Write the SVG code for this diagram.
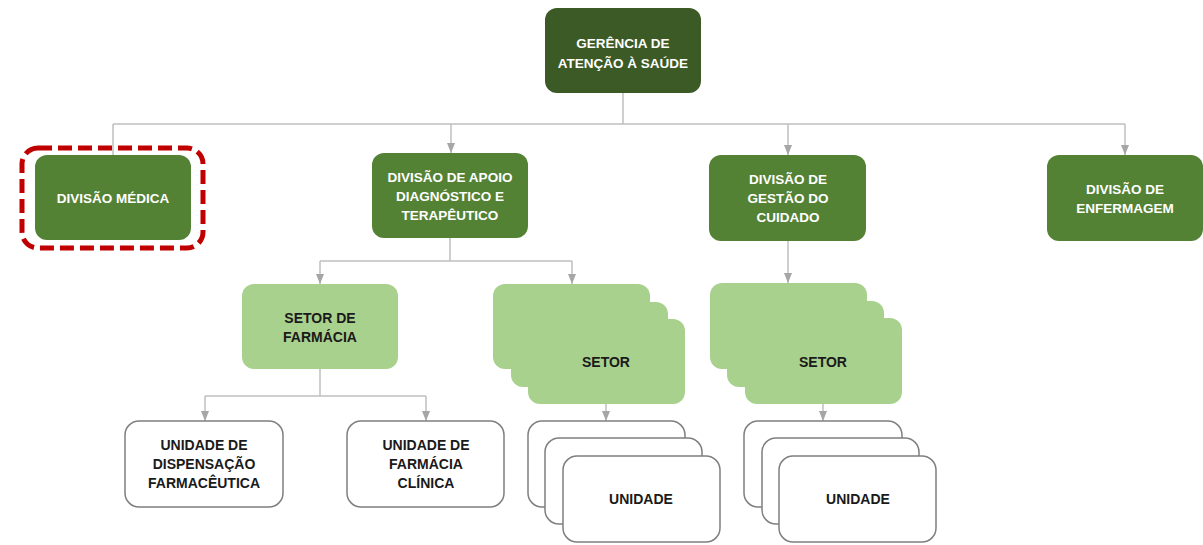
<svg xmlns="http://www.w3.org/2000/svg" width="1203" height="545" viewBox="0 0 1203 545">
<defs>
<style>
.dark{fill:#3b5a25}
.mid{fill:#548235}
.light{fill:#a9d18e}
.white{fill:#ffffff;stroke:#7f7f7f;stroke-width:1.5}
.tw{font-family:"Liberation Sans",Arial,sans-serif;font-weight:bold;font-size:13.5px;fill:#ffffff;text-anchor:middle}
.tb{font-family:"Liberation Sans",Arial,sans-serif;font-weight:bold;font-size:14px;fill:#1a1a1a;text-anchor:middle}
.con{fill:none;stroke:#bfbfbf;stroke-width:1.5}
</style>
<marker id="arr" markerWidth="10" markerHeight="10" viewBox="0 0 10 10" refX="10" refY="5" orient="auto" markerUnits="userSpaceOnUse">
<path d="M0,1 L10,5 L0,9 Z" fill="#a6a6a6"/>
</marker>
</defs>
<rect width="1203" height="545" fill="#ffffff"/>
<g id="connectors">
<path class="con" d="M623,93 V124"/>
<path class="con" d="M113,124 H1125"/>
<path class="con" d="M113,124 V155"/>
<path class="con" d="M451,124 V153" marker-end="url(#arr)"/>
<path class="con" d="M788,124 V155" marker-end="url(#arr)"/>
<path class="con" d="M1125,124 V155" marker-end="url(#arr)"/>
<path class="con" d="M450,238 V261"/>
<path class="con" d="M320,261 H572"/>
<path class="con" d="M320,261 V284" marker-end="url(#arr)"/>
<path class="con" d="M572,261 V284" marker-end="url(#arr)"/>
<path class="con" d="M788,241 V283" marker-end="url(#arr)"/>
<path class="con" d="M320,369 V396"/>
<path class="con" d="M205,396 H426"/>
<path class="con" d="M205,396 V421" marker-end="url(#arr)"/>
<path class="con" d="M426,396 V421" marker-end="url(#arr)"/>
<path class="con" d="M606,404 V421" marker-end="url(#arr)"/>
<path class="con" d="M823,404 V421" marker-end="url(#arr)"/>
</g>
<g id="gerencia">
<rect class="dark" x="545" y="8" width="156" height="85" rx="12"/>
<text class="tw" x="623" y="48">GERÊNCIA DE</text>
<text class="tw" x="623" y="68">ATENÇÃO À SAÚDE</text>
</g>
<g id="divisao-medica">
<rect class="mid" x="35" y="155" width="156" height="85" rx="12"/>
<rect x="22" y="148" width="181" height="100" rx="16" fill="none" stroke="#c00000" stroke-width="5" stroke-dasharray="14,6"/>
<text class="tw" x="113" y="203">DIVISÃO MÉDICA</text>
</g>
<g id="divisao-apoio">
<rect class="mid" x="372" y="153" width="156" height="85" rx="12"/>
<text class="tw" x="450" y="182">DIVISÃO DE APOIO</text>
<text class="tw" x="450" y="201">DIAGNÓSTICO E</text>
<text class="tw" x="450" y="220">TERAPÊUTICO</text>
</g>
<g id="divisao-gestao">
<rect class="mid" x="709" y="155" width="157" height="86" rx="12"/>
<text class="tw" x="788" y="184">DIVISÃO DE</text>
<text class="tw" x="788" y="203">GESTÃO DO</text>
<text class="tw" x="788" y="222">CUIDADO</text>
</g>
<g id="divisao-enfermagem">
<rect class="mid" x="1047" y="155" width="156" height="86" rx="12"/>
<text class="tw" x="1125" y="194">DIVISÃO DE</text>
<text class="tw" x="1125" y="213">ENFERMAGEM</text>
</g>
<g id="setor-farmacia">
<rect class="light" x="242" y="284" width="156" height="85" rx="12"/>
<text class="tb" x="320" y="323">SETOR DE</text>
<text class="tb" x="320" y="342">FARMÁCIA</text>
</g>
<g id="setor-apoio">
<rect class="light" x="493" y="284" width="157" height="85" rx="12"/>
<rect class="light" x="511" y="302" width="157" height="85" rx="12"/>
<rect class="light" x="528" y="319" width="157" height="85" rx="12"/>
<text class="tb" x="606" y="367">SETOR</text>
</g>
<g id="setor-gestao">
<rect class="light" x="710" y="283" width="157" height="86" rx="12"/>
<rect class="light" x="727" y="301" width="157" height="86" rx="12"/>
<rect class="light" x="745" y="318" width="157" height="86" rx="12"/>
<text class="tb" x="823" y="367">SETOR</text>
</g>
<g id="unidade-dispensacao">
<rect class="white" x="125" y="421" width="158" height="86" rx="14"/>
<text class="tb" x="204" y="450">UNIDADE DE</text>
<text class="tb" x="204" y="469">DISPENSAÇÃO</text>
<text class="tb" x="204" y="488">FARMACÊUTICA</text>
</g>
<g id="unidade-farmacia-clinica">
<rect class="white" x="347" y="421" width="157" height="86" rx="14"/>
<text class="tb" x="426" y="450">UNIDADE DE</text>
<text class="tb" x="426" y="469">FARMÁCIA</text>
<text class="tb" x="426" y="488">CLÍNICA</text>
</g>
<g id="unidade-apoio">
<rect class="white" x="528" y="421" width="157" height="86" rx="14"/>
<rect class="white" x="545" y="438" width="157" height="86" rx="14"/>
<rect class="white" x="563" y="456" width="157" height="86" rx="14"/>
<text class="tb" x="641" y="504">UNIDADE</text>
</g>
<g id="unidade-gestao">
<rect class="white" x="744" y="421" width="158" height="86" rx="14"/>
<rect class="white" x="762" y="438" width="157" height="86" rx="14"/>
<rect class="white" x="779" y="456" width="157" height="86" rx="14"/>
<text class="tb" x="858" y="504">UNIDADE</text>
</g>
</svg>
